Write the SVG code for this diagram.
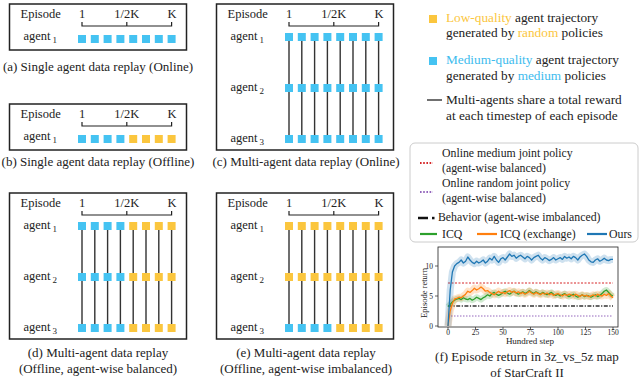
<svg xmlns="http://www.w3.org/2000/svg" width="640" height="380" viewBox="0 0 640 380" font-family="'Liberation Serif', 'DejaVu Serif', serif">
<style>
text{font-family:"Liberation Serif","DejaVu Serif",serif;fill:#222}
.t{font-size:12.5px}
.lq{font-size:13.3px}
.sub{font-size:9px}
.mid{text-anchor:middle}
.box{fill:none;stroke:#222;stroke-width:1.5}
.br{fill:none;stroke:#222;stroke-width:1.2}
.b{fill:#45C3F2}
.y{fill:#FBC63E}
.v{stroke:#333;stroke-width:1.4}
.cap{font-size:13px;text-anchor:middle}
.lg{font-size:11.8px}
.ax{font-size:7.5px}
.cv{fill:none;vector-effect:non-scaling-stroke;stroke-linejoin:round}
</style>
<defs>
<g id="hdr">
<text class="t" x="11" y="18">Episode</text>
<text class="t mid" x="72.5" y="18">1</text>
<text class="t mid" x="117.3" y="18">1/2K</text>
<text class="t mid" x="162.5" y="18">K</text>
<path class="br" d="M72.5,22V26H162.1V22M117.3,22V26"/>
</g>
<g id="vlines">
<path class="v" d="M72.5,37V139M85.3,37V139M98.1,37V139M110.9,37V139M123.7,37V139M136.5,37V139M149.3,37V139M162.1,37V139"/>
</g>
</defs>

<!-- (a) -->
<g id="panel-a" transform="translate(9.5,0)">
<rect class="box" x="0" y="4" width="177" height="46"/>
<use href="#hdr"/>
<text class="t" x="14" y="40">agent<tspan class="sub" dx="2" dy="3">1</tspan></text>
<g class="b"><rect x="68.5" y="35" width="8" height="8"/><rect x="81.3" y="35" width="8" height="8"/><rect x="94.1" y="35" width="8" height="8"/><rect x="106.9" y="35" width="8" height="8"/><rect x="119.7" y="35" width="8" height="8"/><rect x="132.5" y="35" width="8" height="8"/><rect x="145.3" y="35" width="8" height="8"/><rect x="158.1" y="35" width="8" height="8"/></g>
</g>
<text class="cap" x="98" y="71">(a) Single agent data replay (Online)</text>

<!-- (b) -->
<g id="panel-b" transform="translate(9.5,100)">
<rect class="box" x="0" y="4" width="177" height="46"/>
<use href="#hdr"/>
<text class="t" x="14" y="40">agent<tspan class="sub" dx="2" dy="3">1</tspan></text>
<g class="b"><rect x="68.5" y="35" width="8" height="8"/><rect x="81.3" y="35" width="8" height="8"/><rect x="94.1" y="35" width="8" height="8"/><rect x="106.9" y="35" width="8" height="8"/></g>
<g class="y"><rect x="119.7" y="35" width="8" height="8"/><rect x="132.5" y="35" width="8" height="8"/><rect x="145.3" y="35" width="8" height="8"/><rect x="158.1" y="35" width="8" height="8"/></g>
</g>
<text class="cap" x="98" y="166">(b) Single agent data replay (Offline)</text>

<!-- (c) -->
<g id="panel-c" transform="translate(216.5,0)">
<rect class="box" x="0" y="4" width="177" height="146"/>
<use href="#hdr"/>
<use href="#vlines"/>
<text class="t" x="14" y="40">agent<tspan class="sub" dx="2" dy="3">1</tspan></text>
<text class="t" x="14" y="91">agent<tspan class="sub" dx="2" dy="3">2</tspan></text>
<text class="t" x="14" y="142">agent<tspan class="sub" dx="2" dy="3">3</tspan></text>
<g class="b">
<rect x="68.5" y="33" width="8" height="8"/><rect x="81.3" y="33" width="8" height="8"/><rect x="94.1" y="33" width="8" height="8"/><rect x="106.9" y="33" width="8" height="8"/><rect x="119.7" y="33" width="8" height="8"/><rect x="132.5" y="33" width="8" height="8"/><rect x="145.3" y="33" width="8" height="8"/><rect x="158.1" y="33" width="8" height="8"/>
<rect x="68.5" y="84" width="8" height="8"/><rect x="81.3" y="84" width="8" height="8"/><rect x="94.1" y="84" width="8" height="8"/><rect x="106.9" y="84" width="8" height="8"/><rect x="119.7" y="84" width="8" height="8"/><rect x="132.5" y="84" width="8" height="8"/><rect x="145.3" y="84" width="8" height="8"/><rect x="158.1" y="84" width="8" height="8"/>
<rect x="68.5" y="135" width="8" height="8"/><rect x="81.3" y="135" width="8" height="8"/><rect x="94.1" y="135" width="8" height="8"/><rect x="106.9" y="135" width="8" height="8"/><rect x="119.7" y="135" width="8" height="8"/><rect x="132.5" y="135" width="8" height="8"/><rect x="145.3" y="135" width="8" height="8"/><rect x="158.1" y="135" width="8" height="8"/>
</g>
</g>
<text class="cap" x="306" y="166">(c) Multi-agent data replay (Online)</text>

<!-- (d) -->
<g id="panel-d" transform="translate(9.5,189)">
<rect class="box" x="0" y="4" width="177" height="146"/>
<use href="#hdr"/>
<use href="#vlines"/>
<text class="t" x="14" y="40">agent<tspan class="sub" dx="2" dy="3">1</tspan></text>
<text class="t" x="14" y="91">agent<tspan class="sub" dx="2" dy="3">2</tspan></text>
<text class="t" x="14" y="142">agent<tspan class="sub" dx="2" dy="3">3</tspan></text>
<g class="b">
<rect x="68.5" y="33" width="8" height="8"/><rect x="81.3" y="33" width="8" height="8"/><rect x="94.1" y="33" width="8" height="8"/><rect x="106.9" y="33" width="8" height="8"/>
<rect x="68.5" y="84" width="8" height="8"/><rect x="81.3" y="84" width="8" height="8"/><rect x="94.1" y="84" width="8" height="8"/><rect x="106.9" y="84" width="8" height="8"/>
<rect x="68.5" y="135" width="8" height="8"/><rect x="81.3" y="135" width="8" height="8"/><rect x="94.1" y="135" width="8" height="8"/><rect x="106.9" y="135" width="8" height="8"/>
</g>
<g class="y">
<rect x="119.7" y="33" width="8" height="8"/><rect x="132.5" y="33" width="8" height="8"/><rect x="145.3" y="33" width="8" height="8"/><rect x="158.1" y="33" width="8" height="8"/>
<rect x="119.7" y="84" width="8" height="8"/><rect x="132.5" y="84" width="8" height="8"/><rect x="145.3" y="84" width="8" height="8"/><rect x="158.1" y="84" width="8" height="8"/>
<rect x="119.7" y="135" width="8" height="8"/><rect x="132.5" y="135" width="8" height="8"/><rect x="145.3" y="135" width="8" height="8"/><rect x="158.1" y="135" width="8" height="8"/>
</g>
</g>
<text class="cap" x="98" y="357">(d) Multi-agent  data replay</text>
<text class="cap" x="98" y="373">(Offline, agent-wise balanced)</text>

<!-- (e) -->
<g id="panel-e" transform="translate(216.5,189)">
<rect class="box" x="0" y="4" width="177" height="146"/>
<use href="#hdr"/>
<use href="#vlines"/>
<text class="t" x="14" y="40">agent<tspan class="sub" dx="2" dy="3">1</tspan></text>
<text class="t" x="14" y="91">agent<tspan class="sub" dx="2" dy="3">2</tspan></text>
<text class="t" x="14" y="142">agent<tspan class="sub" dx="2" dy="3">3</tspan></text>
<g class="y">
<rect x="68.5" y="33" width="8" height="8"/><rect x="81.3" y="33" width="8" height="8"/><rect x="94.1" y="33" width="8" height="8"/><rect x="106.9" y="33" width="8" height="8"/><rect x="119.7" y="33" width="8" height="8"/><rect x="132.5" y="33" width="8" height="8"/><rect x="145.3" y="33" width="8" height="8"/><rect x="158.1" y="33" width="8" height="8"/>
<rect x="68.5" y="84" width="8" height="8"/><rect x="81.3" y="84" width="8" height="8"/><rect x="94.1" y="84" width="8" height="8"/><rect x="106.9" y="84" width="8" height="8"/><rect x="119.7" y="84" width="8" height="8"/><rect x="132.5" y="84" width="8" height="8"/><rect x="145.3" y="84" width="8" height="8"/><rect x="158.1" y="84" width="8" height="8"/>
<rect x="119.7" y="135" width="8" height="8"/><rect x="132.5" y="135" width="8" height="8"/><rect x="145.3" y="135" width="8" height="8"/><rect x="158.1" y="135" width="8" height="8"/>
</g>
<g class="b"><rect x="68.5" y="135" width="8" height="8"/><rect x="81.3" y="135" width="8" height="8"/><rect x="94.1" y="135" width="8" height="8"/><rect x="106.9" y="135" width="8" height="8"/></g>
</g>
<text class="cap" x="306" y="357">(e) Multi-agent  data replay</text>
<text class="cap" x="306" y="373">(Offline, agent-wise imbalanced)</text>

<!-- legend top right -->
<g id="legend-quality">
<rect class="y" x="429" y="15" width="8" height="8"/>
<text class="lq" x="446" y="22"><tspan fill="#FBC63E">Low-quality</tspan> agent trajectory</text>
<text class="lq" x="446" y="37">generated by <tspan fill="#FBC63E">random</tspan> policies</text>
<rect class="b" x="429" y="57" width="8" height="8"/>
<text class="lq" x="446" y="64"><tspan fill="#3DBCEE">Medium-quality</tspan> agent trajectory</text>
<text class="lq" x="446" y="80">generated by <tspan fill="#3DBCEE">medium</tspan> policies</text>
<line x1="427" y1="100" x2="442" y2="100" stroke="#222" stroke-width="1.3"/>
<text class="lq" x="446" y="104">Multi-agents  share a total reward</text>
<text class="lq" x="446" y="120">at each timestep  of each episode</text>
</g>

<!-- chart legend -->
<g id="legend-chart">
<rect x="410" y="143" width="228" height="99" rx="5" fill="#fff" stroke="#ccc" stroke-width="1"/>
<line x1="420" y1="163" x2="433" y2="163" stroke="#d62728" stroke-width="2" stroke-dasharray="1.6,1.6"/>
<text class="lg" x="442" y="157">Online medium joint policy</text>
<text class="lg" x="442" y="172">(agent-wise balanced)</text>
<line x1="420" y1="192" x2="433" y2="192" stroke="#9467bd" stroke-width="2" stroke-dasharray="1.6,1.6"/>
<text class="lg" x="442" y="187">Online random joint policy</text>
<text class="lg" x="442" y="202">(agent-wise balanced)</text>
<line x1="418" y1="218" x2="428" y2="218" stroke="#111" stroke-width="2.5"/>
<rect x="432" y="216.8" width="2.5" height="2.5" fill="#111"/>
<text class="lg" x="438" y="221">Behavior (agent-wise imbalanced)</text>
<line x1="420" y1="234" x2="437" y2="234" stroke="#2ca02c" stroke-width="2.2"/>
<text class="lg" x="442" y="238">ICQ</text>
<line x1="477" y1="234" x2="497" y2="234" stroke="#ff7f0e" stroke-width="2.2"/>
<text class="lg" x="500" y="238">ICQ (exchange)</text>
<line x1="587" y1="234" x2="607" y2="234" stroke="#1f77b4" stroke-width="2.2"/>
<text class="lg" x="609" y="238">Ours</text>
</g>

<!-- chart -->
<g id="chart">
<rect x="438" y="247" width="180" height="80" fill="#fff" stroke="#222" stroke-width="0.8"/>
<g stroke="#222" stroke-width="0.7">
<path d="M435,326H438M435,296H438M435,266H438"/>
<path d="M448,327V330M475.5,327V330M503,327V330M530.5,327V330M558,327V330M585.5,327V330M613,327V330"/>
</g>
<g class="ax">
<text x="433" y="328.5" text-anchor="end">0</text>
<text x="433" y="298.5" text-anchor="end">5</text>
<text x="433" y="268.5" text-anchor="end">10</text>
<text x="448" y="334.5" text-anchor="middle">0</text>
<text x="475.5" y="334.5" text-anchor="middle">25</text>
<text x="503" y="334.5" text-anchor="middle">50</text>
<text x="530.5" y="334.5" text-anchor="middle">75</text>
<text x="558" y="334.5" text-anchor="middle">100</text>
<text x="585.5" y="334.5" text-anchor="middle">125</text>
<text x="613" y="334.5" text-anchor="middle">150</text>
</g>
<text x="530" y="343.5" text-anchor="middle" style="font-size:9px">Hundred step</text>
<text x="0" y="0" text-anchor="middle" transform="translate(427,293) rotate(-90)" style="font-size:8.5px">Episode return</text>
<line x1="448" y1="283" x2="613" y2="283" stroke="#d62728" stroke-width="1" stroke-dasharray="2,1.5"/>
<line x1="448" y1="306" x2="613" y2="306" stroke="#333" stroke-width="1.4" stroke-dasharray="4,1.5,1.2,1.5"/>
<line x1="448" y1="316" x2="613" y2="316" stroke="#9467bd" stroke-width="1" stroke-dasharray="1.5,1.5"/>
<g transform="translate(448,326) scale(1.1,-6)">
<polyline class="cv" stroke="#2ca02c" stroke-opacity="0.22" stroke-width="6" points="0,3.2 2,3.6 4,4.0 6,4.3 8,4.5 10,4.6 12,4.4 14,4.7 16,4.5 18,4.4 20,4.6 22,4.3 24,4.5 26,4.8 28,4.6 30,4.4 32,4.7 34,4.9 36,5.2 38,5.0 40,5.4 42,5.6 44,5.3 46,5.1 48,5.3 50,5.6 52,5.8 54,5.5 56,5.3 58,5.6 60,5.8 62,5.5 64,5.3 66,5.5 68,5.7 70,5.4 72,5.6 74,5.9 76,5.6 78,5.4 80,5.7 82,5.5 84,5.3 86,5.6 88,5.4 90,5.2 92,5.4 94,5.6 96,5.3 98,5.1 100,5.3 102,5.0 104,5.2 106,5.4 108,5.1 110,4.9 112,5.1 114,5.3 116,5.0 118,4.8 120,5.0 122,5.2 124,4.9 126,5.1 128,5.0 130,4.8 132,5.0 134,5.2 136,4.9 138,5.1 140,5.4 142,5.8 144,6.0 146,5.6 148,5.2 150,5.0"/>
<polyline class="cv" stroke="#ff7f0e" stroke-opacity="0.22" stroke-width="7" points="0,0 2,2.5 4,3.8 6,4.5 8,4.6 10,4.8 12,4.7 14,5.0 16,5.3 18,5.8 20,5.6 22,5.9 24,6.3 26,6.0 28,6.2 30,6.5 32,6.2 34,5.8 36,5.9 38,5.6 40,5.4 42,5.2 44,5.5 46,5.8 48,5.5 50,5.6 52,5.4 54,5.7 56,5.9 58,5.6 60,5.8 62,5.5 64,5.7 66,5.4 68,5.6 70,5.3 72,5.5 74,5.8 76,5.5 78,5.3 80,5.6 82,5.4 84,5.2 86,5.5 88,5.3 90,5.5 92,5.2 94,5.4 96,5.1 98,5.3 100,5.4 102,5.2 104,5.0 106,5.3 108,5.1 110,5.3 112,5.2 114,5.0 116,5.3 118,5.1 120,4.9 122,5.2 124,5.0 126,5.1 128,4.9 130,5.0 132,5.2 134,5.0 136,5.3 138,5.1 140,5.0 142,5.3 144,5.1 146,5.4 148,5.0 150,4.7"/>
<polyline class="cv" stroke="#1f77b4" stroke-opacity="0.22" stroke-width="7" points="0,0 2,6 4,9 6,10 8,10.4 10,10.6 12,11 14,10.5 16,10.8 18,11.5 20,11.0 22,10.6 24,10.4 26,10.8 28,10.5 30,10.7 32,11.0 34,10.5 36,10.8 38,11.3 40,11.0 42,11.6 44,11.0 46,10.6 48,11.2 50,11.4 52,11.0 54,11.5 56,12.0 58,11.6 60,11.8 62,11.3 64,11.6 66,11.8 68,11.5 70,11.2 72,11.6 74,11.4 76,11.0 78,11.4 80,11.6 82,11.8 84,11.3 86,11.0 88,11.4 90,11.2 92,10.9 94,11.1 96,11.4 98,11.0 100,11.2 102,11.4 104,11.1 106,11.6 108,11.3 110,11.5 112,11.2 114,11.6 116,11.4 118,11.0 120,11.5 122,11.8 124,12.0 126,11.6 128,11.0 130,10.7 132,10.6 134,11.0 136,11.2 138,10.8 140,11.0 142,11.3 144,11.0 146,10.9 148,11.1 150,11.1"/>
<polyline class="cv" stroke="#2ca02c" stroke-width="1.3" points="0,3.2 2,3.6 4,4.0 6,4.3 8,4.5 10,4.6 12,4.4 14,4.7 16,4.5 18,4.4 20,4.6 22,4.3 24,4.5 26,4.8 28,4.6 30,4.4 32,4.7 34,4.9 36,5.2 38,5.0 40,5.4 42,5.6 44,5.3 46,5.1 48,5.3 50,5.6 52,5.8 54,5.5 56,5.3 58,5.6 60,5.8 62,5.5 64,5.3 66,5.5 68,5.7 70,5.4 72,5.6 74,5.9 76,5.6 78,5.4 80,5.7 82,5.5 84,5.3 86,5.6 88,5.4 90,5.2 92,5.4 94,5.6 96,5.3 98,5.1 100,5.3 102,5.0 104,5.2 106,5.4 108,5.1 110,4.9 112,5.1 114,5.3 116,5.0 118,4.8 120,5.0 122,5.2 124,4.9 126,5.1 128,5.0 130,4.8 132,5.0 134,5.2 136,4.9 138,5.1 140,5.4 142,5.8 144,6.0 146,5.6 148,5.2 150,5.0"/>
<polyline class="cv" stroke="#ff7f0e" stroke-width="1.3" points="0,0 2,2.5 4,3.8 6,4.5 8,4.6 10,4.8 12,4.7 14,5.0 16,5.3 18,5.8 20,5.6 22,5.9 24,6.3 26,6.0 28,6.2 30,6.5 32,6.2 34,5.8 36,5.9 38,5.6 40,5.4 42,5.2 44,5.5 46,5.8 48,5.5 50,5.6 52,5.4 54,5.7 56,5.9 58,5.6 60,5.8 62,5.5 64,5.7 66,5.4 68,5.6 70,5.3 72,5.5 74,5.8 76,5.5 78,5.3 80,5.6 82,5.4 84,5.2 86,5.5 88,5.3 90,5.5 92,5.2 94,5.4 96,5.1 98,5.3 100,5.4 102,5.2 104,5.0 106,5.3 108,5.1 110,5.3 112,5.2 114,5.0 116,5.3 118,5.1 120,4.9 122,5.2 124,5.0 126,5.1 128,4.9 130,5.0 132,5.2 134,5.0 136,5.3 138,5.1 140,5.0 142,5.3 144,5.1 146,5.4 148,5.0 150,4.7"/>
<polyline class="cv" stroke="#1f77b4" stroke-width="1.3" points="0,0 2,6 4,9 6,10 8,10.4 10,10.6 12,11 14,10.5 16,10.8 18,11.5 20,11.0 22,10.6 24,10.4 26,10.8 28,10.5 30,10.7 32,11.0 34,10.5 36,10.8 38,11.3 40,11.0 42,11.6 44,11.0 46,10.6 48,11.2 50,11.4 52,11.0 54,11.5 56,12.0 58,11.6 60,11.8 62,11.3 64,11.6 66,11.8 68,11.5 70,11.2 72,11.6 74,11.4 76,11.0 78,11.4 80,11.6 82,11.8 84,11.3 86,11.0 88,11.4 90,11.2 92,10.9 94,11.1 96,11.4 98,11.0 100,11.2 102,11.4 104,11.1 106,11.6 108,11.3 110,11.5 112,11.2 114,11.6 116,11.4 118,11.0 120,11.5 122,11.8 124,12.0 126,11.6 128,11.0 130,10.7 132,10.6 134,11.0 136,11.2 138,10.8 140,11.0 142,11.3 144,11.0 146,10.9 148,11.1 150,11.1"/>
</g>
</g>
<text class="cap" x="527" y="361" style="font-size:13px">(f) Episode return in 3z_vs_5z map</text>
<text class="cap" x="527" y="377" style="font-size:13px">of StarCraft II</text>
</svg>
